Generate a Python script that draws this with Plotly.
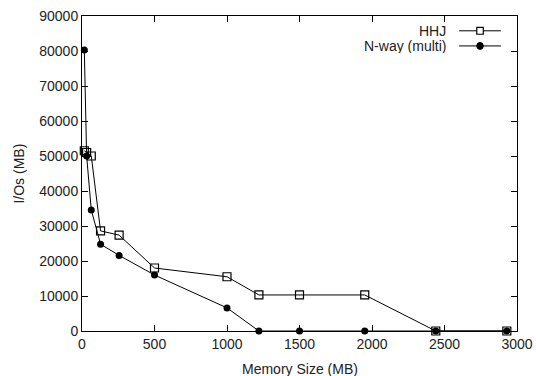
import plotly.graph_objects as go

# Data
hhj_x = [16, 32, 64, 128, 256, 500, 1000, 1220, 1500, 1950, 2440, 2930]
hhj_y = [51500, 51000, 50000, 28600, 27400, 18000, 15500, 10300, 10300, 10300, 0, 0]

nway_x = [16, 32, 64, 128, 256, 500, 1000, 1220, 1500, 1950, 2440, 2930]
nway_y = [80300, 50000, 34600, 24800, 21600, 16000, 6600, 0, 0, 0, 0, 0]

x_ticks = [0, 500, 1000, 1500, 2000, 2500, 3000]
y_ticks = [0, 10000, 20000, 30000, 40000, 50000, 60000, 70000, 80000, 90000]

series_names = ["HHJ", "N-way (multi)"]
x_title = "Memory Size (MB)"
y_title = "I/Os (MB)"

FONT = "Liberation Sans, Arial, sans-serif"
TXT = "#222222"

fig = go.Figure()
fig.add_trace(go.Scatter(
    x=hhj_x, y=hhj_y, mode="lines+markers", name=series_names[0],
    line=dict(color="black", width=1),
    marker=dict(symbol="square-open", size=8, color="black", line=dict(width=1.2)),
    showlegend=False, cliponaxis=False,
))
fig.add_trace(go.Scatter(
    x=nway_x, y=nway_y, mode="lines+markers", name=series_names[1],
    line=dict(color="black", width=1),
    marker=dict(symbol="circle", size=7, color="black"),
    showlegend=False, cliponaxis=False,
))

# gnuplot-style legend (text left of sample)
leg_rows = [0.953, 0.905]
for i, name in enumerate(series_names):
    fig.add_annotation(xref="paper", yref="paper", x=0.838, y=leg_rows[i],
                       text=name, showarrow=False, xanchor="right", yanchor="middle",
                       height=15, borderpad=0,
                       font=dict(family=FONT, size=14, color=TXT))
    fig.add_shape(type="line", xref="paper", yref="paper",
                  x0=0.867, x1=0.963, y0=leg_rows[i], y1=leg_rows[i],
                  line=dict(color="black", width=1))
cx = (0.867 + 0.963) / 2
fig.add_shape(type="rect", xref="paper", yref="paper",
              x0=cx - 0.0075, x1=cx + 0.0075, y0=leg_rows[0] - 0.011, y1=leg_rows[0] + 0.011,
              line=dict(color="black", width=1.2), fillcolor="white")
fig.add_shape(type="circle", xref="paper", yref="paper",
              x0=cx - 0.0075, x1=cx + 0.0075, y0=leg_rows[1] - 0.011, y1=leg_rows[1] + 0.011,
              line=dict(color="black", width=1), fillcolor="black")

# axis titles as annotations for precise placement
fig.add_annotation(xref="paper", yref="paper", x=0.5, y=-0.088, text=x_title,
                   showarrow=False, xanchor="center", yanchor="top",
                   font=dict(family=FONT, size=14, color=TXT))
fig.add_annotation(xref="paper", yref="paper", x=-0.147, y=0.5, text=y_title,
                   showarrow=False, xanchor="center", yanchor="middle", textangle=-90,
                   font=dict(family=FONT, size=14, color=TXT))

axis_common = dict(
    showline=True, linecolor="black", linewidth=1, mirror="ticks",
    ticks="inside", ticklen=6, tickcolor="black", tickwidth=1,
    showgrid=False, zeroline=False, automargin=False,
    tickfont=dict(family=FONT, size=14, color=TXT),
)
fig.update_xaxes(range=[0, 3000], tickvals=x_ticks, ticktext=[str(v) for v in x_ticks],
                 **axis_common)
fig.update_yaxes(range=[0, 90000], tickvals=y_ticks, ticktext=[str(v) for v in y_ticks],
                 **axis_common)

fig.update_layout(
    width=536, height=376,
    margin=dict(l=82, r=19, t=16, b=45),
    plot_bgcolor="white", paper_bgcolor="white",
    font=dict(family=FONT, size=14, color=TXT),
)

fig.write_html("out.html")
